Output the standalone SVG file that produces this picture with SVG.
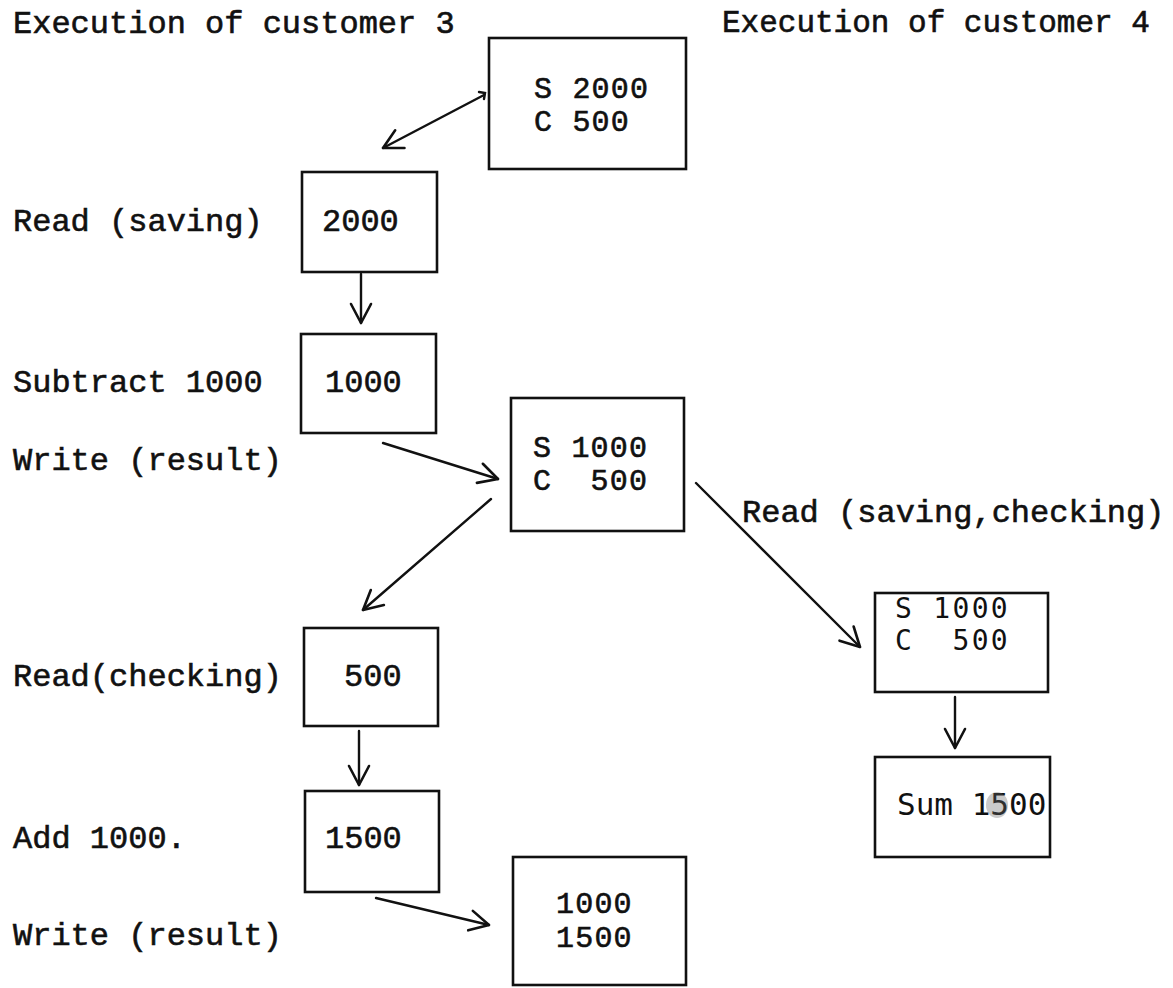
<svg xmlns="http://www.w3.org/2000/svg" width="1173" height="988" viewBox="0 0 1173 988">
  <style>
    .bg { fill: #ffffff; }
    .box { fill: none; stroke: #111; stroke-width: 2.6; }
    .edge { fill: none; stroke: #111; stroke-width: 2.4; stroke-linecap: round; }
    text { white-space: pre; }
    .t { font-family: "Liberation Mono", "Courier New", monospace; font-size: 32px; fill: #111; stroke: #111; stroke-width: 0.6; }
    .v { font-size: 30px; letter-spacing: 1.2px; }
    .t2 { font-family: "DejaVu Sans Mono", "Liberation Mono", monospace; font-size: 28px; letter-spacing: 2.3px; fill: #111; }
  </style>
  <defs>
    <marker id="head" viewBox="-22 -12 26 24" refX="0" refY="0" markerWidth="26" markerHeight="24" markerUnits="userSpaceOnUse" orient="auto">
      <path d="M-19,-10 L0,0 L-19,10" fill="none" stroke="#111" stroke-width="2.6" stroke-linecap="round" stroke-linejoin="round"/>
    </marker>
  </defs>

  <rect class="bg" x="0" y="0" width="1173" height="988"/>

  <!-- column headings -->
  <text class="t" x="13" y="33">Execution of customer 3</text>
  <text class="t" x="722" y="32" style="font-size:31px">Execution of customer 4</text>

  <!-- step labels, customer 3 -->
  <text class="t" x="13" y="231">Read (saving)</text>
  <text class="t" x="13" y="392">Subtract 1000</text>
  <text class="t" x="13" y="470">Write (result)</text>
  <text class="t" x="13" y="686">Read(checking)</text>
  <text class="t" x="13" y="848">Add 1000.</text>
  <text class="t" x="13" y="945">Write (result)</text>

  <!-- initial account state -->
  <g id="db-initial">
    <rect class="box" x="489" y="38" width="197" height="131"/>
    <text class="t v" x="534" y="98">S 2000</text>
    <text class="t v" x="534" y="131">C 500</text>
  </g>

  <g id="read-saving">
    <rect class="box" x="302" y="172" width="135" height="100"/>
    <text class="t" x="322" y="231">2000</text>
  </g>

  <g id="subtract">
    <rect class="box" x="301" y="334" width="135" height="99"/>
    <text class="t" x="325" y="392">1000</text>
  </g>

  <!-- account state after first write -->
  <g id="db-after-write">
    <rect class="box" x="511" y="398" width="173" height="133"/>
    <text class="t v" x="533" y="457">S 1000</text>
    <text class="t v" x="533" y="490">C  500</text>
  </g>

  <g id="read-checking">
    <rect class="box" x="304" y="628" width="134" height="98"/>
    <text class="t" x="344" y="686">500</text>
  </g>

  <g id="add">
    <rect class="box" x="305" y="791" width="134" height="101"/>
    <text class="t" x="325" y="848">1500</text>
  </g>

  <!-- final account state -->
  <g id="db-final">
    <rect class="box" x="513" y="857" width="173" height="128"/>
    <text class="t v" x="556" y="913">1000</text>
    <text class="t v" x="556" y="947">1500</text>
  </g>

  <!-- customer 4 -->
  <text class="t" x="742" y="522">Read (saving,checking)</text>

  <g id="read-both">
    <rect class="box" x="875" y="593" width="173" height="99"/>
    <text class="t2" x="895" y="618">S 1000</text>
    <text class="t2" x="895" y="650">C  500</text>
  </g>

  <g id="sum">
    <rect class="box" x="875" y="757" width="175" height="100"/>
    <text class="t2" x="897" y="815" style="font-size:31px;letter-spacing:0">Sum 1500</text>
    <ellipse cx="997" cy="805" rx="11" ry="13" fill="#666" opacity="0.35"/>
  </g>

  <!-- connectors -->
  <g id="connectors">
    <path class="edge" d="M484,95 L383,148" marker-end="url(#head)"/>
    <path class="edge" d="M479,92 L485,93 L484,99"/>
    <path class="edge" d="M361,274 L361,323" marker-end="url(#head)"/>
    <path class="edge" d="M383,443 L498,479" marker-end="url(#head)"/>
    <path class="edge" d="M491,499 L363,610" marker-end="url(#head)"/>
    <path class="edge" d="M696,483 L860,647" marker-end="url(#head)"/>
    <path class="edge" d="M359,731 L359,785" marker-end="url(#head)"/>
    <path class="edge" d="M376,898 L489,925" marker-end="url(#head)"/>
    <path class="edge" d="M955,697 L955,748" marker-end="url(#head)"/>
  </g>
</svg>
